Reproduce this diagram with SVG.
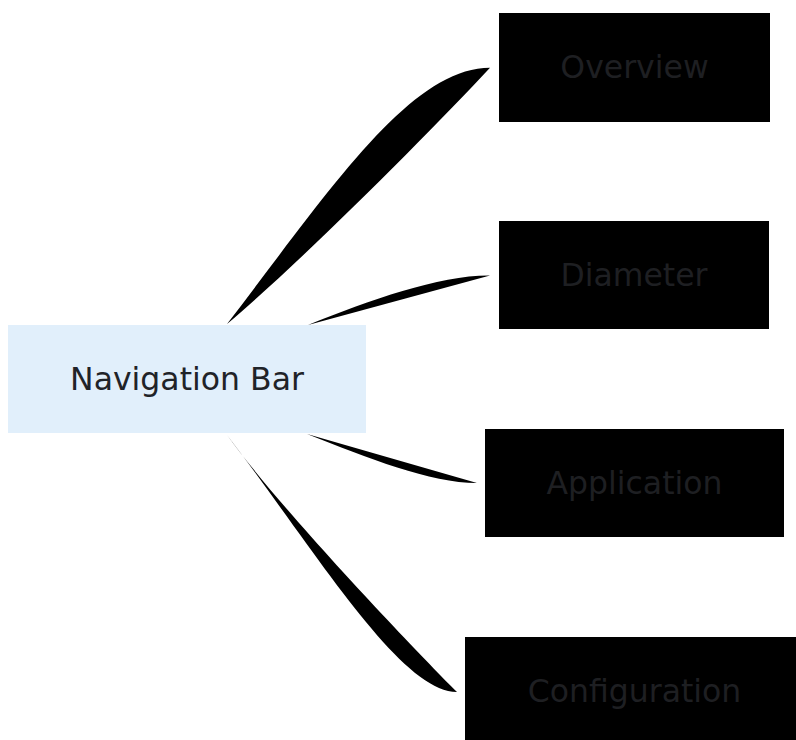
<svg xmlns="http://www.w3.org/2000/svg" width="796" height="740" viewBox="0 0 796 740">
<style>
.lbl{font-family:"DejaVu Sans",Verdana,sans-serif;font-size:31.5px;text-anchor:middle;fill:#1f2328}
.child rect{fill:#000}
.child text{fill:#1e1f22}
.edge{fill:#000;stroke:none}
</style>
<rect width="796" height="740" fill="#fff"/>
<g id="connectors">
<path class="edge" d="M227,324 C330,190 410,68 490,67.7 C430,132 305,258 227,324 Z"/>
<path class="edge" d="M308,325 C370,300 440,275 490,275.5 L308,325 Z"/>
<path class="edge" d="M307,434 C368,458 430,483 477,483 L307,434 Z"/>
<path class="edge" d="M227,435 C315,550 400,692 457,692 C425,660 285,515 227,435 Z"/>
</g>
<g id="root">
<rect x="8" y="325" width="358" height="108" fill="#e1effb"/>
<text class="lbl" x="187" y="390">Navigation Bar</text>
</g>
<g id="overview" class="child">
<rect x="499" y="13" width="271" height="109"/>
<text class="lbl" x="634.5" y="78">Overview</text>
</g>
<g id="diameter" class="child">
<rect x="499" y="221" width="270" height="108"/>
<text class="lbl" x="634" y="286">Diameter</text>
</g>
<g id="application" class="child">
<rect x="485" y="429" width="299" height="108"/>
<text class="lbl" x="634.5" y="494">Application</text>
</g>
<g id="configuration" class="child">
<rect x="465" y="637" width="339" height="108"/>
<text class="lbl" x="634.5" y="702">Configuration</text>
</g>
</svg>
